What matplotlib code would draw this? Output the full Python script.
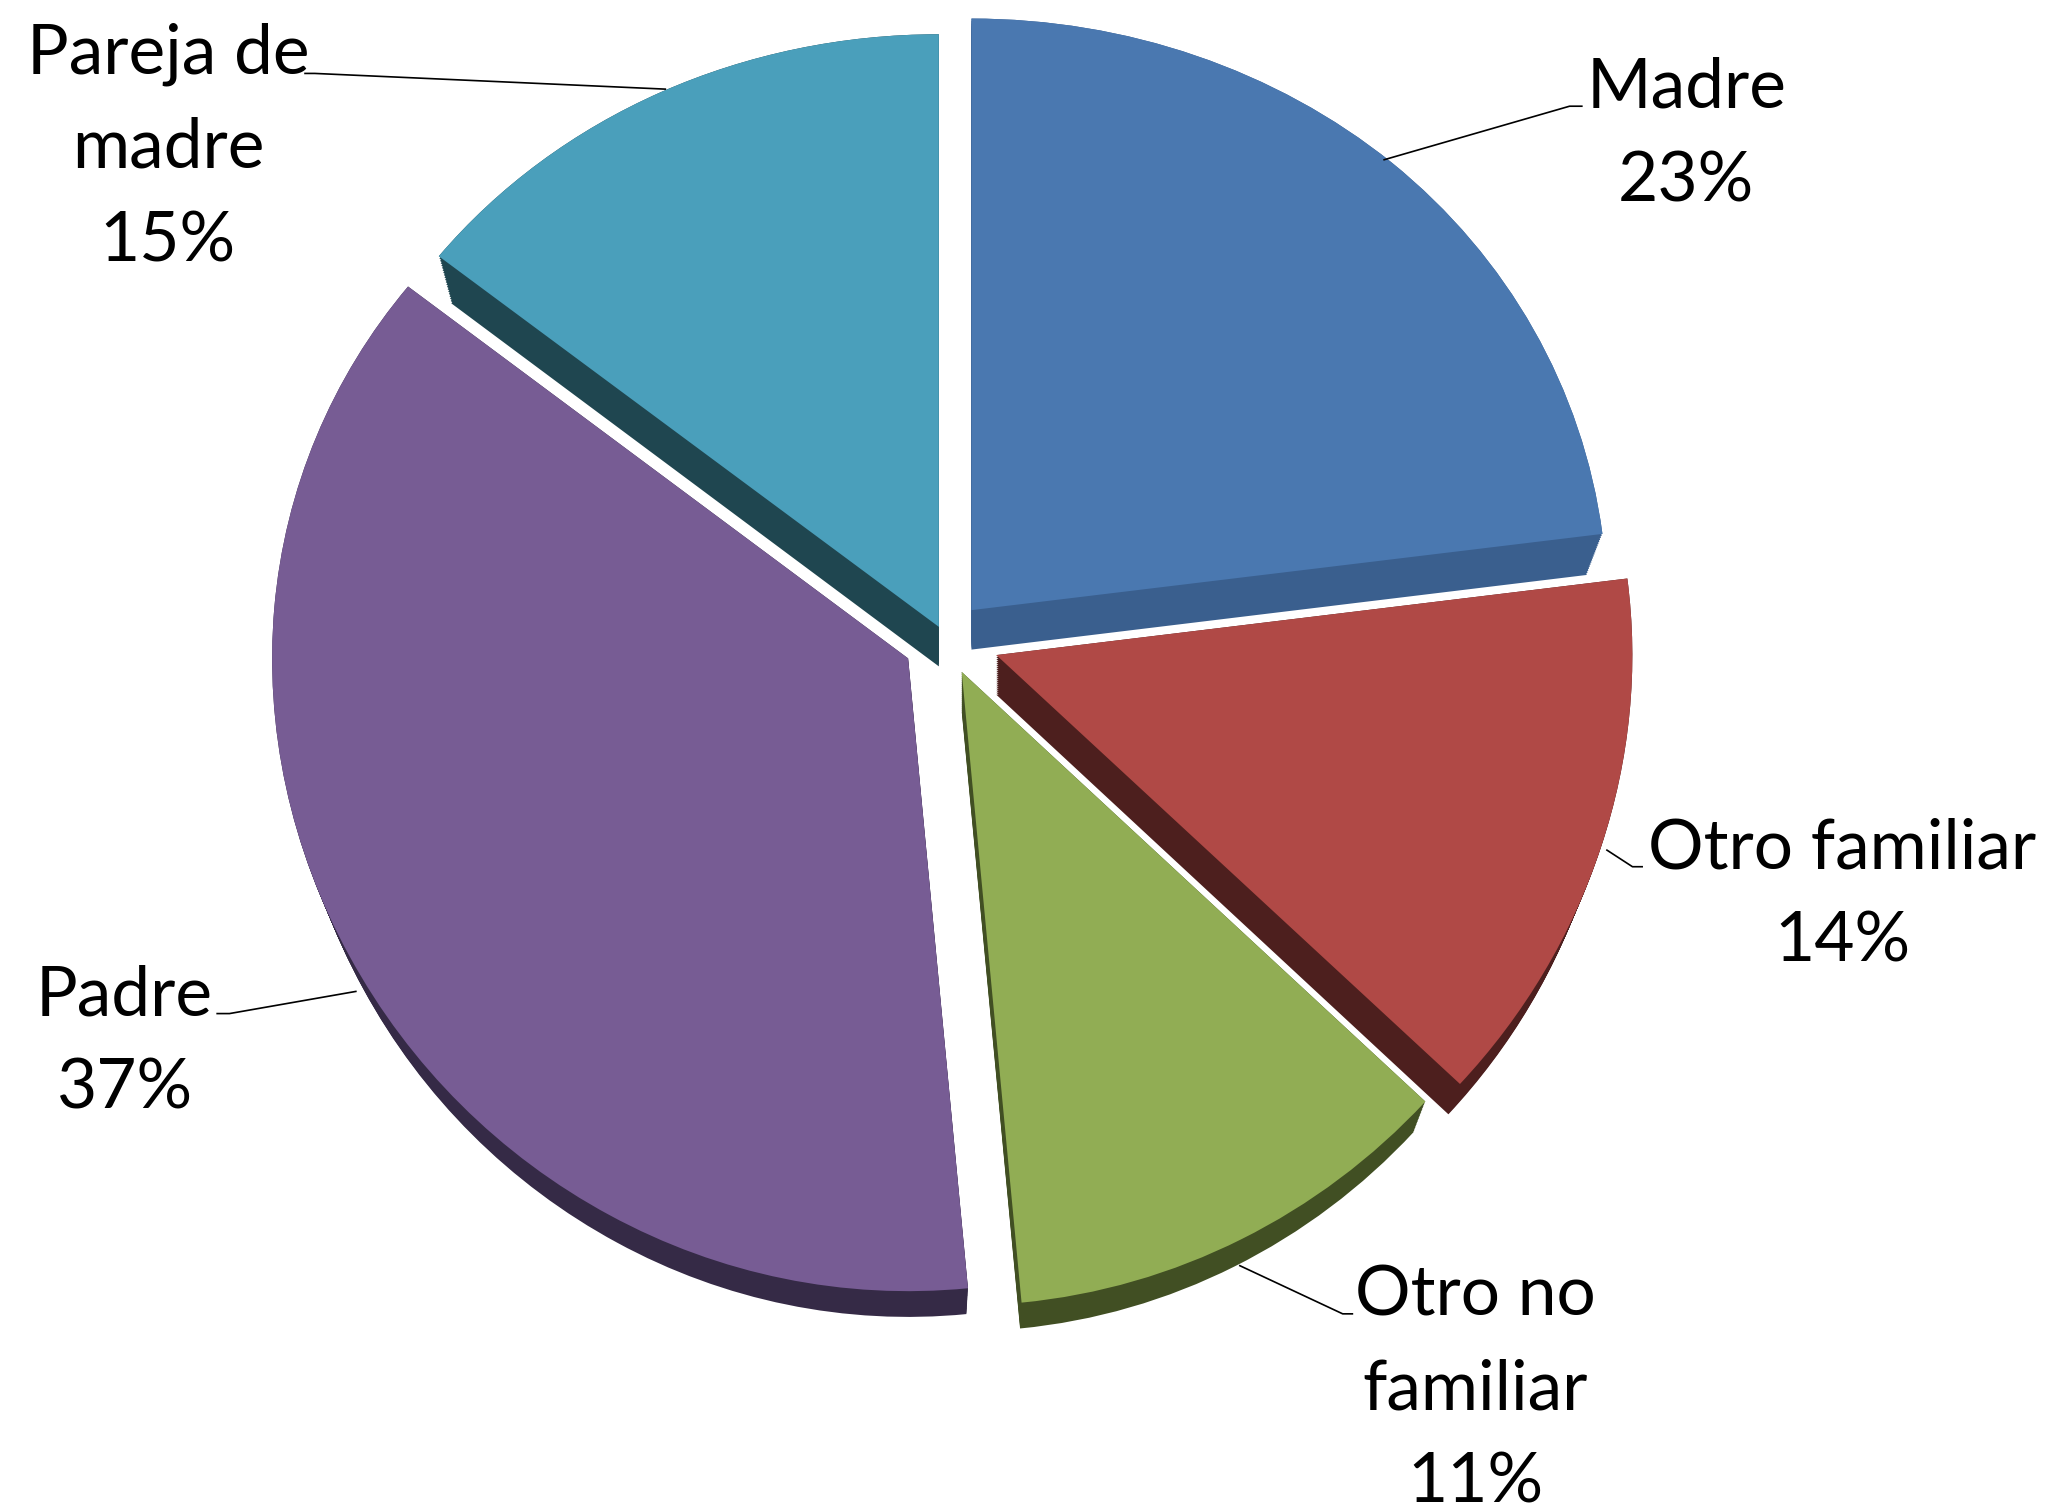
import matplotlib
matplotlib.use("Agg")
import matplotlib.pyplot as plt
from matplotlib.transforms import Transform
import numpy as np

# values (slice sizes are a little finer than the printed labels)
categories = ["Madre", "Otro familiar", "Otro no\nfamiliar", "Padre", "Pareja de\nmadre"]
values = [23, 14, 11.5, 37.1, 14.4]
percent_labels = ["23%", "14%", "11%", "37%", "15%"]
top_colors = ["#4A78B0", "#B04946", "#91AD54", "#775C94", "#4A9FBB"]
side_colors = ["#3A5F8E", "#4D1F1E", "#414F23", "#352A46", "#1F4650"]

W, H = 2056, 1506
CX, CY = 945, H - 639
RADIUS = 636
DEPTH = 41
explode = [40, 54, 38, 42, 14]


# the pie leans back a bit so the top is squashed more than the bottom
class Tilt(Transform):
    input_dims = output_dims = 2

    def transform_non_affine(self, xy):
        xy = np.array(xy, dtype=float)
        y = (xy[:, 1] - CY) / RADIUS
        xy[:, 1] = CY + RADIUS * (0.963 * y - 0.03 * y * y)
        return xy


def DrawPie(ax, colors, radius, dy):
    tilt = Tilt()
    wedges, _ = ax.pie(values, colors=colors, explode=explode, radius=radius,
                       center=(CX, CY + dy), startangle=90, counterclock=False, frame=True)
    for w in wedges:
        w.set_transform(tilt + ax.transData)
        w.set_linewidth(0)
    return wedges


def Label(ax, x, y, text, line):
    ax.plot(line[0], line[1], color="black", lw=1.2, solid_capstyle="butt", zorder=5)
    ax.text(x, y, text, ha="center", va="center", fontsize=50, linespacing=1.6, color="black", zorder=6)


plt.rcParams["font.family"] = ["Lato", "DejaVu Sans"]
fig = plt.figure(figsize=(W / 100, H / 100), dpi=100, facecolor="white")
ax = fig.add_axes([0, 0, 1, 1])

# stack of darker pies makes the thickness, the top pie goes over it
for t in np.linspace(1, 0, 21):
    DrawPie(ax, side_colors, RADIUS * (1 - 0.025 * t), -DEPTH * t)
DrawPie(ax, top_colors, RADIUS, 0)

ax.set_aspect("auto")
ax.set_xlim(0, W)
ax.set_ylim(0, H)
ax.axis("off")

s = 2056 / 1568
label_layout = [
    (1286, 103, [1055, 1197, 1207], [122, 81, 81]),
    (1405, 683, [1225, 1245, 1253], [648, 661, 661]),
    (1125, 1060, [945, 1024, 1032], [965, 1002, 1002]),
    (95, 795, [272, 175, 165], [756, 773, 773]),
    (128, 113, [508, 240, 232], [68, 56, 56]),
]
for i, (x, y, lx, ly) in enumerate(label_layout):
    text = categories[i] + "\n" + percent_labels[i]
    Label(ax, x * s, H - y * s, text, ([v * s for v in lx], [H - v * s for v in ly]))

fig.savefig("out.png", dpi=100)
